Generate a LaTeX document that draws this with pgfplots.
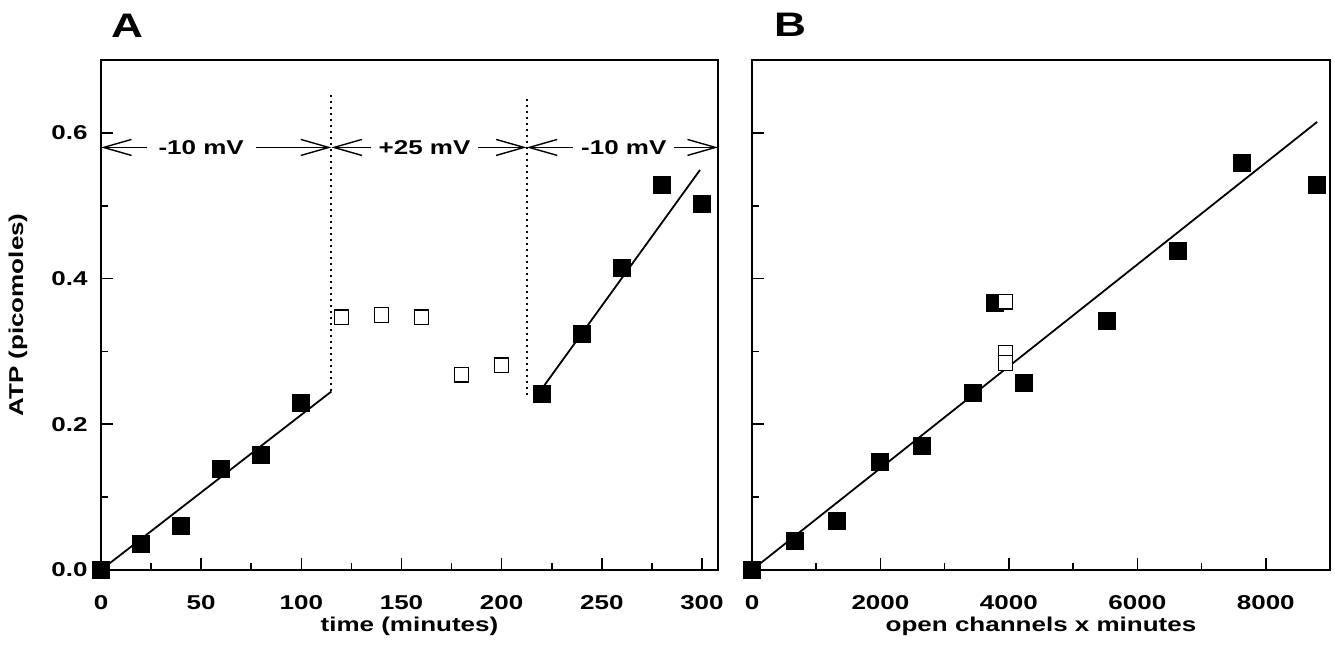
\documentclass[border=0pt]{standalone}
\usepackage{fontspec}
\setmainfont{Liberation Sans}[FakeStretch=1.3]
\usepackage{pgfplots}
\pgfplotsset{compat=1.18}
\usetikzlibrary{arrows.meta}
\tikzset{
  arr/.style={{Straight Barb[length=14pt,width=8pt]}-{Straight Barb[length=14pt,width=8pt]}, line width=0.7pt},
  lab/.style={fill=white, inner xsep=6pt, inner ysep=2pt},
}

\begin{document}
\fontsize{10}{12}\selectfont\bfseries
\begin{tikzpicture}
\path[use as bounding box] (0,0) rectangle (667.5pt,323pt);
\pgfplotsset{
  myax/.style={
    scale only axis, height=255pt,
    ymin=0, ymax=0.7,
    ytick={0,0.2,0.4,0.6}, minor ytick={0.1,0.3,0.5},
    tick align=inside, xtick pos=left, ytick pos=left,
    major tick length=6pt, minor tick length=3.5pt,
    axis line style={line width=1pt},
    every tick/.style={line width=0.8pt, black},
    /pgf/number format/assume math mode=true,
    scaled ticks=false,
    yticklabel style={/pgf/number format/fixed,/pgf/number format/precision=1,/pgf/number format/fixed zerofill, xshift=-3.2pt},
    xticklabel style={/pgf/number format/1000 sep={}, yshift=-9pt},
    clip=false,
    xlabel style={at={(axis description cs:0.5,-0.11)}, anchor=center},
    ylabel style={at={(axis description cs:-0.1345,0.5)}, anchor=center, rotate=0},
  },
}
% Panel A
\begin{axis}[myax, at={(50.5pt,38pt)}, anchor=south west, width=308.5pt,
  xmin=0, xmax=308, xtick={0,50,...,300}, minor xtick={25,75,...,275},
  xlabel={time (minutes)}, ylabel={ATP (picomoles)}]
\addplot[line width=0.9pt, no marks] coordinates {(0,0) (115,0.245)};
\addplot[line width=0.9pt, no marks] coordinates {(217,0.237) (299,0.549)};
\addplot[dotted, line width=1pt, no marks] coordinates {(115,0.245) (115,0.655)};
\addplot[dotted, line width=1pt, no marks] coordinates {(212.5,0.24) (212.5,0.649)};
\addplot[only marks, mark=square*, mark size=4.25pt, mark options={fill=black, draw=black}] coordinates {
(0,0) (20,0.036) (40,0.060) (60,0.139) (80,0.158) (100,0.229)
(220,0.242) (240,0.324) (260,0.415) (280,0.529) (300,0.503)};
\addplot[only marks, mark=square*, mark size=3.6pt, mark options={fill=white, draw=black, line width=0.6pt}] coordinates {
(120,0.347) (140,0.350) (160,0.347) (180,0.268) (200,0.281)};
\draw[arr] (axis cs:0,0.58) -- (axis cs:115,0.58);
\draw[arr] (axis cs:115,0.58) -- (axis cs:212.5,0.58);
\draw[arr] (axis cs:212.5,0.58) -- (axis cs:308,0.58);
\node[lab] at (axis cs:50,0.58) {-10 mV};
\node[lab, inner xsep=4pt] at (axis cs:161.5,0.58) {+25 mV};
\node[lab, inner xsep=4pt] at (axis cs:261,0.58) {-10 mV};
\end{axis}
% Panel B
\begin{axis}[myax, at={(376pt,38pt)}, anchor=south west, width=289pt,
  xmin=0, xmax=9000, xtick={0,2000,...,8000}, minor xtick={1000,3000,5000,7000},
  yticklabels={}, xlabel={open channels x minutes}]
\addplot[line width=0.9pt, no marks] coordinates {(0,0) (8800,0.615)};
\addplot[only marks, mark=square*, mark size=4.25pt, mark options={fill=black, draw=black}] coordinates {
(0,0) (670,0.040) (1325,0.067) (1996,0.148) (2651,0.170) (3446,0.243)
(3789,0.366) (4226,0.257) (5520,0.342) (6627,0.438) (7625,0.559) (8795,0.529)};
\addplot[only marks, mark=square*, mark size=3.6pt, mark options={fill=white, draw=black, line width=0.6pt}] coordinates {
(3945,0.368) (3945,0.298) (3945,0.284)};
\end{axis}
\node[font=\fontsize{17}{20}\selectfont\bfseries] at (63.5pt,310pt) {A};
\node[font=\fontsize{17}{20}\selectfont\bfseries] at (395pt,310.5pt) {B};
\end{tikzpicture}
\end{document}
